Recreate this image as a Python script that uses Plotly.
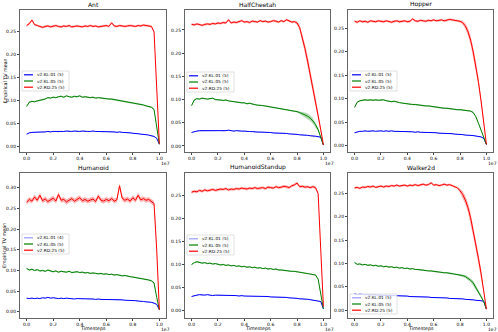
import numpy as np
import plotly.graph_objects as go

# timesteps in units of 1e7
timesteps = np.linspace(0.0, 1.0, 51)

envs = ['Ant', 'HalfCheetah', 'Hopper', 'Humanoid', 'HumanoidStandup', 'Walker2d']
labels = ['v2:KL:01', 'v2:KL:05', 'v2:RD:25']
run_counts = {'Ant': [5, 5, 5], 'HalfCheetah': [5, 5, 5], 'Hopper': [5, 5, 5],
              'Humanoid': [4, 5, 5], 'HumanoidStandup': [5, 5, 5], 'Walker2d': [5, 5, 5]}

ant_kl01 = [0.026,0.029,0.030,0.030,0.031,0.030,0.031,0.031,0.032,0.031,0.032,0.032,0.031,0.032,0.032,0.033,0.032,0.032,0.033,0.032,0.032,0.033,0.032,0.032,0.032,0.033,0.032,0.032,0.032,0.031,0.032,0.031,0.031,0.031,0.030,0.031,0.030,0.030,0.029,0.029,0.028,0.028,0.027,0.026,0.026,0.025,0.024,0.023,0.021,0.017,0.004]
ant_kl05 = [0.087,0.096,0.098,0.097,0.099,0.100,0.101,0.103,0.106,0.105,0.107,0.106,0.108,0.109,0.107,0.110,0.108,0.107,0.109,0.108,0.110,0.107,0.108,0.107,0.106,0.107,0.105,0.106,0.105,0.104,0.104,0.103,0.103,0.102,0.101,0.100,0.099,0.098,0.097,0.095,0.094,0.093,0.092,0.091,0.090,0.088,0.087,0.085,0.080,0.040,0.004]
ant_rd25 = [0.264,0.268,0.276,0.266,0.264,0.262,0.260,0.262,0.263,0.261,0.262,0.264,0.262,0.261,0.263,0.262,0.264,0.261,0.262,0.263,0.262,0.261,0.263,0.262,0.264,0.262,0.263,0.261,0.262,0.263,0.264,0.262,0.270,0.263,0.262,0.264,0.263,0.262,0.263,0.264,0.263,0.262,0.264,0.263,0.265,0.264,0.263,0.262,0.250,0.130,0.005]

hc_kl01 = [0.029,0.031,0.032,0.033,0.033,0.032,0.033,0.033,0.033,0.032,0.033,0.033,0.032,0.033,0.034,0.033,0.032,0.033,0.032,0.032,0.032,0.031,0.031,0.031,0.030,0.030,0.030,0.030,0.029,0.029,0.029,0.028,0.028,0.028,0.027,0.027,0.027,0.026,0.026,0.025,0.025,0.024,0.024,0.023,0.023,0.022,0.022,0.021,0.020,0.019,0.002]
hc_kl05 = [0.087,0.099,0.102,0.101,0.103,0.102,0.101,0.102,0.103,0.100,0.100,0.099,0.098,0.099,0.097,0.096,0.096,0.095,0.094,0.093,0.093,0.091,0.092,0.090,0.089,0.088,0.088,0.087,0.086,0.085,0.084,0.084,0.082,0.081,0.080,0.079,0.078,0.077,0.076,0.075,0.074,0.072,0.070,0.067,0.064,0.060,0.054,0.046,0.035,0.020,0.002]
hc_rd25 = [0.262,0.261,0.263,0.262,0.260,0.262,0.263,0.262,0.264,0.263,0.265,0.264,0.266,0.265,0.272,0.265,0.267,0.266,0.268,0.270,0.267,0.268,0.266,0.269,0.268,0.267,0.270,0.268,0.269,0.267,0.268,0.270,0.269,0.267,0.270,0.268,0.272,0.269,0.267,0.268,0.265,0.255,0.235,0.210,0.183,0.155,0.125,0.095,0.065,0.035,0.002]

hop_kl01 = [0.028,0.030,0.031,0.031,0.032,0.031,0.032,0.032,0.031,0.032,0.032,0.031,0.032,0.031,0.032,0.031,0.031,0.031,0.030,0.031,0.030,0.030,0.030,0.029,0.030,0.029,0.029,0.029,0.028,0.028,0.028,0.028,0.027,0.027,0.027,0.026,0.026,0.026,0.025,0.025,0.024,0.024,0.023,0.023,0.022,0.022,0.021,0.020,0.019,0.016,0.003]
hop_kl05 = [0.082,0.093,0.096,0.097,0.098,0.097,0.098,0.097,0.098,0.097,0.097,0.098,0.096,0.095,0.094,0.095,0.093,0.092,0.091,0.090,0.090,0.089,0.088,0.088,0.087,0.087,0.086,0.085,0.085,0.084,0.083,0.083,0.082,0.081,0.080,0.080,0.079,0.078,0.078,0.077,0.077,0.076,0.075,0.075,0.074,0.071,0.062,0.048,0.034,0.019,0.003]
hop_rd25 = [0.265,0.263,0.266,0.264,0.265,0.263,0.266,0.265,0.264,0.266,0.265,0.264,0.266,0.265,0.263,0.265,0.266,0.264,0.265,0.266,0.264,0.265,0.270,0.266,0.265,0.267,0.266,0.265,0.267,0.266,0.268,0.266,0.267,0.268,0.266,0.267,0.269,0.268,0.267,0.266,0.265,0.262,0.255,0.243,0.225,0.200,0.170,0.135,0.095,0.050,0.003]

hum_kl01 = [0.033,0.032,0.033,0.032,0.033,0.032,0.034,0.033,0.035,0.033,0.034,0.033,0.032,0.033,0.032,0.033,0.032,0.032,0.031,0.032,0.032,0.031,0.032,0.031,0.031,0.031,0.030,0.031,0.030,0.030,0.030,0.030,0.030,0.029,0.029,0.029,0.029,0.028,0.028,0.028,0.027,0.027,0.026,0.026,0.025,0.024,0.024,0.023,0.021,0.018,0.005]
hum_kl05 = [0.105,0.101,0.103,0.100,0.102,0.099,0.100,0.098,0.101,0.098,0.097,0.099,0.096,0.098,0.097,0.096,0.098,0.095,0.096,0.097,0.095,0.096,0.094,0.095,0.093,0.094,0.093,0.092,0.093,0.091,0.092,0.090,0.091,0.089,0.090,0.088,0.087,0.088,0.086,0.085,0.084,0.083,0.082,0.081,0.080,0.078,0.077,0.075,0.070,0.035,0.005]
hum_rd25 = [0.265,0.272,0.268,0.278,0.270,0.282,0.269,0.273,0.267,0.271,0.275,0.268,0.284,0.270,0.272,0.266,0.270,0.274,0.268,0.271,0.276,0.269,0.272,0.268,0.270,0.273,0.267,0.280,0.270,0.268,0.272,0.269,0.274,0.268,0.271,0.305,0.275,0.270,0.273,0.268,0.276,0.270,0.282,0.271,0.274,0.270,0.272,0.268,0.262,0.150,0.005]

hs_kl01 = [0.030,0.032,0.033,0.034,0.033,0.033,0.034,0.033,0.032,0.033,0.033,0.032,0.033,0.032,0.033,0.032,0.032,0.032,0.031,0.032,0.031,0.031,0.031,0.031,0.030,0.031,0.030,0.030,0.030,0.030,0.029,0.029,0.029,0.029,0.028,0.028,0.028,0.027,0.027,0.026,0.026,0.025,0.025,0.024,0.024,0.023,0.022,0.022,0.021,0.019,0.003]
hs_kl05 = [0.100,0.104,0.106,0.105,0.103,0.104,0.102,0.103,0.101,0.102,0.100,0.099,0.100,0.098,0.099,0.097,0.098,0.096,0.097,0.095,0.096,0.094,0.095,0.093,0.094,0.092,0.093,0.091,0.092,0.090,0.091,0.089,0.090,0.088,0.088,0.087,0.087,0.086,0.085,0.085,0.084,0.083,0.082,0.082,0.081,0.080,0.079,0.077,0.068,0.035,0.003]
hs_rd25 = [0.258,0.260,0.259,0.262,0.260,0.263,0.261,0.262,0.264,0.262,0.263,0.265,0.264,0.266,0.263,0.265,0.264,0.266,0.265,0.267,0.266,0.265,0.267,0.266,0.268,0.266,0.267,0.268,0.266,0.269,0.268,0.267,0.270,0.268,0.269,0.271,0.270,0.268,0.272,0.274,0.278,0.270,0.271,0.269,0.270,0.268,0.270,0.268,0.255,0.140,0.008]

w2d_kl01 = [0.035,0.033,0.034,0.033,0.033,0.033,0.032,0.033,0.032,0.032,0.032,0.031,0.032,0.031,0.031,0.031,0.031,0.030,0.030,0.030,0.030,0.029,0.029,0.029,0.029,0.028,0.028,0.028,0.028,0.027,0.027,0.027,0.026,0.026,0.026,0.026,0.025,0.025,0.025,0.024,0.024,0.024,0.023,0.023,0.022,0.022,0.021,0.021,0.020,0.019,0.002]
w2d_kl05 = [0.102,0.098,0.099,0.097,0.098,0.096,0.097,0.095,0.096,0.094,0.095,0.093,0.094,0.092,0.093,0.091,0.092,0.090,0.091,0.089,0.090,0.088,0.089,0.087,0.087,0.086,0.086,0.085,0.084,0.084,0.083,0.082,0.082,0.081,0.080,0.080,0.079,0.078,0.078,0.077,0.075,0.074,0.072,0.068,0.064,0.058,0.048,0.040,0.030,0.018,0.002]
w2d_rd25 = [0.262,0.263,0.261,0.264,0.263,0.265,0.264,0.266,0.263,0.265,0.266,0.264,0.266,0.265,0.267,0.266,0.268,0.266,0.267,0.268,0.266,0.268,0.267,0.269,0.267,0.268,0.270,0.268,0.269,0.273,0.268,0.269,0.267,0.268,0.270,0.268,0.269,0.267,0.265,0.262,0.256,0.248,0.236,0.220,0.198,0.170,0.140,0.110,0.078,0.042,0.002]

# standard deviation across seeds: base level per series, wider over the last 11 points where runs diverge
base_sd = {'Ant': [0.0008, 0.0015, 0.0025], 'HalfCheetah': [0.0008, 0.0015, 0.0025],
           'Hopper': [0.0008, 0.0015, 0.0025], 'Humanoid': [0.0008, 0.0018, 0.0060],
           'HumanoidStandup': [0.0008, 0.0015, 0.0030], 'Walker2d': [0.0008, 0.0015, 0.0025]}
hc_kl05_sd_tail = [0.002,0.003,0.004,0.005,0.006,0.006,0.006,0.005,0.004,0.002,0.001]
hc_rd25_sd_tail = [0.004,0.006,0.008,0.010,0.012,0.012,0.012,0.011,0.009,0.006,0.001]
hop_rd25_sd_tail = [0.003,0.004,0.006,0.008,0.010,0.011,0.011,0.010,0.008,0.005,0.001]
w2d_kl05_sd_tail = [0.002,0.003,0.003,0.004,0.004,0.005,0.005,0.004,0.003,0.002,0.001]
w2d_rd25_sd_tail = [0.005,0.007,0.009,0.010,0.011,0.012,0.012,0.011,0.009,0.006,0.001]
sd_tails = {('HalfCheetah', 1): hc_kl05_sd_tail, ('HalfCheetah', 2): hc_rd25_sd_tail,
            ('Hopper', 2): hop_rd25_sd_tail, ('Walker2d', 1): w2d_kl05_sd_tail,
            ('Walker2d', 2): w2d_rd25_sd_tail}

series = {'Ant': [ant_kl01, ant_kl05, ant_rd25], 'HalfCheetah': [hc_kl01, hc_kl05, hc_rd25],
          'Hopper': [hop_kl01, hop_kl05, hop_rd25], 'Humanoid': [hum_kl01, hum_kl05, hum_rd25],
          'HumanoidStandup': [hs_kl01, hs_kl05, hs_rd25], 'Walker2d': [w2d_kl01, w2d_kl05, w2d_rd25]}

yranges = {'Ant': [-0.013, 0.298], 'HalfCheetah': [-0.013, 0.293], 'Hopper': [-0.013, 0.289],
           'Humanoid': [-0.015, 0.336], 'HumanoidStandup': [-0.017, 0.300], 'Walker2d': [-0.017, 0.294]}

W, H = 498, 332
cols = [(20, 166), (185, 330), (348, 493)]
rows = [(10, 152), (173, 318)]
legend_pos = {'Ant': (22, 71), 'HalfCheetah': (187, 72), 'Hopper': (350, 71),
              'Humanoid': (22, 234), 'HumanoidStandup': (187, 235), 'Walker2d': (350, 294)}
legend_blue = {'Ant': 'rgb(0,0,255)', 'HalfCheetah': 'rgb(0,0,255)', 'Hopper': 'rgb(0,0,255)',
               'Humanoid': 'rgba(0,0,255,0.4)', 'HumanoidStandup': 'rgba(0,0,255,0.4)',
               'Walker2d': 'rgba(0,0,255,0.4)'}

colors = ['rgb(0,0,255)', 'rgb(0,128,0)', 'rgb(255,0,0)']
fills = ['rgba(0,0,255,0.3)', 'rgba(0,128,0,0.3)', 'rgba(255,0,0,0.3)']
FONT = 'DejaVu Sans'

def px(x):
    return x / W

def py(y):
    return 1 - y / H

fig = go.Figure()
layout = dict(width=W, height=H, margin=dict(l=0, r=0, t=0, b=0), autosize=False,
              paper_bgcolor='white', plot_bgcolor='white', showlegend=False,
              font=dict(family=FONT, size=5, color='black'))
shapes, annotations = [], []

for i, env in enumerate(envs):
    r, c = divmod(i, 3)
    x0, x1 = cols[c]
    y0, y1 = rows[r]
    n = '' if i == 0 else str(i + 1)
    xa, ya = 'x' + n, 'y' + n
    for k in range(3):
        y = np.array(series[env][k])
        sd = np.full(len(y), base_sd[env][k])
        if (env, k) in sd_tails:
            sd[-11:] = sd_tails[(env, k)]
        fig.add_trace(go.Scatter(x=np.concatenate([timesteps, timesteps[::-1]]),
                                 y=np.concatenate([y + sd, (y - sd)[::-1]]),
                                 fill='toself', fillcolor=fills[k], line=dict(width=0),
                                 mode='lines', hoverinfo='skip', xaxis=xa, yaxis=ya))
        fig.add_trace(go.Scatter(x=timesteps, y=y, mode='lines', line=dict(color=colors[k], width=1),
                                 name=f'{labels[k]} ({run_counts[env][k]})', xaxis=xa, yaxis=ya))
    axis_common = dict(showline=True, mirror=True, linecolor='#666', linewidth=1, showgrid=False,
                       zeroline=False, ticks='outside', ticklen=2, tickwidth=0.6, tickcolor='#444',
                       tickfont=dict(size=4.5, family=FONT), automargin=False)
    layout['xaxis' + n] = dict(axis_common, domain=[px(x0), px(x1)], range=[-0.05, 1.05],
                               tickvals=[0, 0.2, 0.4, 0.6, 0.8, 1.0], tickformat='.1f', anchor=ya)
    ytop = 0.30 if yranges[env][1] > 0.31 else 0.25
    layout['yaxis' + n] = dict(axis_common, domain=[py(y1), py(y0)], range=yranges[env],
                               tickvals=list(np.round(np.arange(0, ytop + 0.001, 0.05), 2)),
                               tickformat='.2f', anchor=xa)
    annotations.append(dict(text=env, x=px((x0 + x1) / 2), y=py(y0 - 0.5), xref='paper', yref='paper',
                            xanchor='center', yanchor='bottom', showarrow=False, font=dict(size=6)))
    annotations.append(dict(text='1e7', x=px(x1 - 1), y=py(y1 + 11), xref='paper', yref='paper',
                            xanchor='center', yanchor='middle', showarrow=False, font=dict(size=4.5)))
    if c == 0:
        annotations.append(dict(text='Empirical TV mean', x=px(4.5), y=py((y0 + y1) / 2), xref='paper',
                                yref='paper', textangle=-90, xanchor='center', yanchor='middle',
                                showarrow=False, font=dict(size=4.8)))
    if r == 1:
        annotations.append(dict(text='Timesteps', x=px((x0 + x1) / 2), y=py(y1 + 10.5), xref='paper',
                                yref='paper', xanchor='center', yanchor='middle', showarrow=False,
                                font=dict(size=4.8)))
    # legend box drawn by hand so it stays as compact as the original
    lx, ly = legend_pos[env]
    shapes.append(dict(type='rect', xref='paper', yref='paper', x0=px(lx), x1=px(lx + 47),
                       y0=py(ly + 20), y1=py(ly), fillcolor='rgba(255,255,255,0.8)',
                       line=dict(color='#ccc', width=0.6), layer='above'))
    for k in range(3):
        yy = ly + 3.8 + k * 6.2
        col = legend_blue[env] if k == 0 else colors[k]
        shapes.append(dict(type='line', xref='paper', yref='paper', x0=px(lx + 2), x1=px(lx + 11),
                           y0=py(yy), y1=py(yy), line=dict(color=col, width=1.2), layer='above'))
        annotations.append(dict(text=f'{labels[k]} ({run_counts[env][k]})', x=px(lx + 13), y=py(yy),
                                xref='paper', yref='paper', xanchor='left', yanchor='middle',
                                showarrow=False, font=dict(size=4.3)))

layout['shapes'] = shapes
layout['annotations'] = annotations
fig.update_layout(**layout)
fig.write_html('out.html', config={'displayModeBar': False},
               post_script="document.body.style.margin='0';")
